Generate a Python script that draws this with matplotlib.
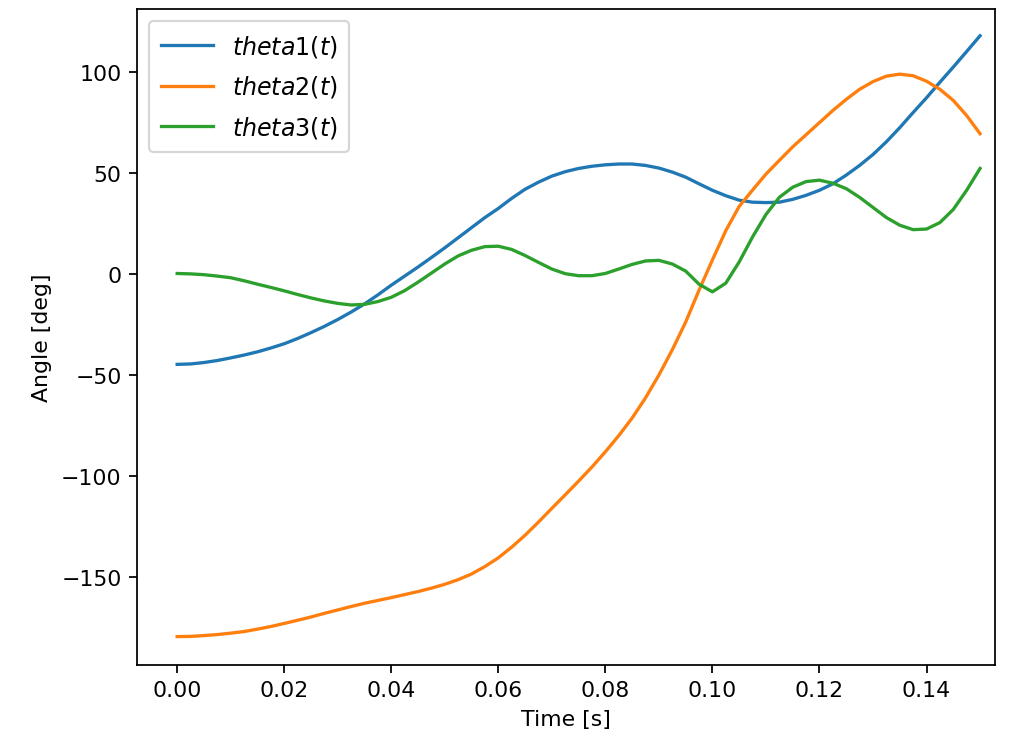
# plot.py
# Joint angles over time (theta1, theta2, theta3)

import matplotlib
matplotlib.use("Agg")
import matplotlib.pyplot as plt

t = [0.0000, 0.0025, 0.0050, 0.0075, 0.0100, 0.0125, 0.0150, 0.0175,
     0.0200, 0.0225, 0.0250, 0.0275, 0.0300, 0.0325, 0.0350, 0.0375,
     0.0400, 0.0425, 0.0450, 0.0475, 0.0500, 0.0525, 0.0550, 0.0575,
     0.0600, 0.0625, 0.0650, 0.0675, 0.0700, 0.0725, 0.0750, 0.0775,
     0.0800, 0.0825, 0.0850, 0.0875, 0.0900, 0.0925, 0.0950, 0.0975,
     0.1000, 0.1025, 0.1050, 0.1075, 0.1100, 0.1125, 0.1150, 0.1175,
     0.1200, 0.1225, 0.1250, 0.1275, 0.1300, 0.1325, 0.1350, 0.1375,
     0.1400, 0.1425, 0.1450, 0.1475, 0.1500]

theta1 = [-44.7, -44.5, -43.8, -42.8, -41.5, -40.1, -38.5, -36.6,
          -34.5, -31.9, -29.0, -25.9, -22.5, -18.8, -14.8, -10.3,
          -5.5, -1.0, 3.5, 8.2, 13.0, 18.0, 23.0, 28.0,
          32.5, 37.5, 42.0, 45.5, 48.5, 50.7, 52.3, 53.4,
          54.1, 54.5, 54.5, 53.8, 52.5, 50.5, 48.0, 44.7,
          41.5, 38.8, 36.6, 35.6, 35.4, 35.6, 37.0, 39.0,
          41.5, 44.7, 49.0, 53.8, 59.2, 65.5, 72.5, 80.0,
          87.3, 95.0, 102.5, 110.2, 118.0]

theta2 = [-179.5, -179.4, -179.0, -178.5, -177.8, -177.0, -175.8, -174.5,
          -173.0, -171.4, -169.8, -168.0, -166.3, -164.6, -163.0, -161.6,
          -160.2, -158.7, -157.2, -155.5, -153.6, -151.3, -148.5, -144.8,
          -140.5, -135.2, -129.3, -122.8, -116.0, -109.3, -102.5, -95.5,
          -88.0, -80.0, -71.3, -61.3, -50.0, -37.5, -23.8, -8.0,
          7.0, 21.5, 33.5, 41.6, 49.5, 56.3, 63.0, 69.0,
          75.0, 81.0, 86.5, 91.5, 95.3, 98.0, 99.0, 98.2,
          95.5, 91.5, 86.0, 78.5, 69.5]

theta3 = [0.3, 0.1, -0.3, -1.0, -1.8, -3.3, -5.0, -6.6,
          -8.3, -10.1, -11.8, -13.3, -14.5, -15.3, -15.0, -13.6,
          -11.5, -8.2, -4.0, 0.5, 5.0, 9.0, 11.8, 13.6,
          13.8, 12.2, 9.2, 5.8, 2.5, 0.2, -0.8, -0.8,
          0.3, 2.5, 4.8, 6.5, 6.8, 5.0, 1.5, -5.0,
          -8.8, -4.5, 6.0, 18.4, 29.5, 38.0, 43.0, 45.8,
          46.5, 45.0, 42.3, 38.0, 33.0, 28.0, 24.2, 22.0,
          22.3, 25.5, 32.0, 41.5, 52.3]

labels = [r'$theta1(t)$', r'$theta2(t)$', r'$theta3(t)$']

# ── Plot ─────────────────────────────────────────────────
fig = plt.figure(figsize=(6.4, 4.74), dpi=158)
ax = fig.add_axes([0.1355, 0.111, 0.8485, 0.8756])

for series, label in zip([theta1, theta2, theta3], labels):
    ax.plot(t, series, label=label)

ax.set_xlim(-0.0075, 0.1528)
ax.set_ylim(-193.5, 131.2)
ax.set_xlabel('Time [s]')
ax.set_ylabel('Angle [deg]')
# legend in the reference is a bit roomier than the default
ax.legend(loc='upper left', fontsize=10.8, handlelength=2.2,
          labelspacing=0.62, borderpad=0.5)

fig.savefig("out.png", dpi=158)
